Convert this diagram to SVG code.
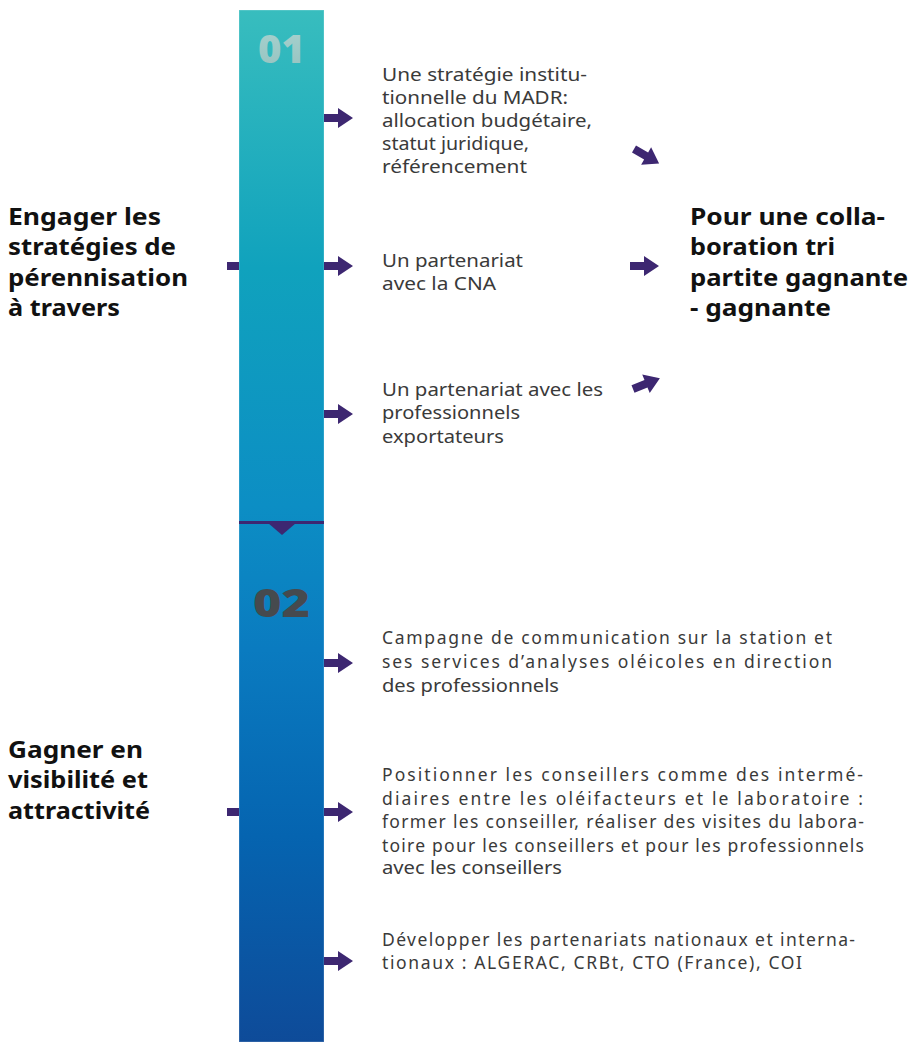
<svg xmlns="http://www.w3.org/2000/svg" width="912" height="1042" viewBox="0 0 912 1042">
<style>
.b{font-family:"Noto Sans","Liberation Sans",sans-serif;font-size:17.5px;fill:#3a3a3a}
.h{font-family:"Noto Sans","Liberation Sans",sans-serif;font-size:22.5px;font-weight:700;fill:#111111}
.n{font-family:"Noto Sans","Liberation Sans",sans-serif;font-size:38px;font-weight:900}
.ar{fill:#3D2771}
</style>
<defs>
<linearGradient id="bar" x1="0" y1="0" x2="0" y2="1">
<stop offset="0" stop-color="#38BDBE"/>
<stop offset="0.25" stop-color="#10A2BD"/>
<stop offset="0.48" stop-color="#0C8EC4"/>
<stop offset="0.62" stop-color="#0A7BC0"/>
<stop offset="0.8" stop-color="#0564B0"/>
<stop offset="1" stop-color="#0E4B99"/>
</linearGradient>
<linearGradient id="n1" x1="0" y1="0" x2="0" y2="1">
<stop offset="0" stop-color="#A8D3D0"/>
<stop offset="1" stop-color="#96C2BF"/>
</linearGradient>
<path id="arrow" d="M0,-4 H14 V-10 L29,0 L14,10 V4 H0 Z"/>
</defs>
<g id="bar-timeline">
<rect x="239" y="10" width="85" height="1032" fill="url(#bar)" stroke="#ffffff" stroke-opacity="0.25" stroke-width="1"/>
<rect x="239" y="521" width="85" height="3" fill="#3D2771"/>
<polygon points="268,523 296,523 282,535" fill="#3D2771"/>
<text class="n" x="258" y="63" fill="url(#n1)" textLength="47" lengthAdjust="spacingAndGlyphs">01</text>
<text class="n" x="253" y="617" fill="#464A4E" textLength="57" lengthAdjust="spacingAndGlyphs">02</text>
</g>
<g id="connectors">
<rect class="ar" x="227" y="262" width="12" height="8"/>
<rect class="ar" x="227" y="808" width="12" height="8"/>
<use href="#arrow" class="ar" x="324" y="118"/>
<use href="#arrow" class="ar" x="324" y="266"/>
<use href="#arrow" class="ar" x="324" y="414"/>
<use href="#arrow" class="ar" x="324" y="663"/>
<use href="#arrow" class="ar" x="324" y="812"/>
<use href="#arrow" class="ar" x="324" y="961"/>
<use href="#arrow" class="ar" transform="translate(634,149) rotate(30)"/>
<use href="#arrow" class="ar" transform="translate(630,266)"/>
<use href="#arrow" class="ar" transform="translate(633,389) rotate(-22)"/>
</g>
<g id="heading-1">
<text class="h" x="8" y="225" textLength="153" lengthAdjust="spacingAndGlyphs">Engager les</text>
<text class="h" x="8" y="255" textLength="168" lengthAdjust="spacingAndGlyphs">stratégies de</text>
<text class="h" x="8" y="286" textLength="180" lengthAdjust="spacingAndGlyphs">pérennisation</text>
<text class="h" x="8" y="316" textLength="112" lengthAdjust="spacingAndGlyphs">à travers</text>
</g>
<g id="heading-2">
<text class="h" x="8" y="758" textLength="135" lengthAdjust="spacingAndGlyphs">Gagner en</text>
<text class="h" x="8" y="788" textLength="140" lengthAdjust="spacingAndGlyphs">visibilité et</text>
<text class="h" x="8" y="819" textLength="142" lengthAdjust="spacingAndGlyphs">attractivité</text>
</g>
<g id="result">
<text class="h" x="690" y="225" textLength="195" lengthAdjust="spacingAndGlyphs">Pour une colla-</text>
<text class="h" x="690" y="255" textLength="145" lengthAdjust="spacingAndGlyphs">boration tri</text>
<text class="h" x="690" y="286" textLength="218" lengthAdjust="spacingAndGlyphs">partite gagnante</text>
<text class="h" x="690" y="316" textLength="141" lengthAdjust="spacingAndGlyphs">- gagnante</text>
</g>
<g id="item-1">
<text class="b" x="382" y="81" textLength="205" lengthAdjust="spacingAndGlyphs">Une stratégie institu-</text>
<text class="b" x="382" y="104" textLength="186" lengthAdjust="spacingAndGlyphs">tionnelle du MADR:</text>
<text class="b" x="382" y="127" textLength="210" lengthAdjust="spacingAndGlyphs">allocation budgétaire,</text>
<text class="b" x="382" y="150" textLength="147" lengthAdjust="spacingAndGlyphs">statut juridique,</text>
<text class="b" x="382" y="173" textLength="145" lengthAdjust="spacingAndGlyphs">référencement</text>
</g>
<g id="item-2">
<text class="b" x="382" y="267" textLength="141" lengthAdjust="spacingAndGlyphs">Un partenariat</text>
<text class="b" x="382" y="290" textLength="114" lengthAdjust="spacingAndGlyphs">avec la CNA</text>
</g>
<g id="item-3">
<text class="b" x="382" y="396" textLength="221" lengthAdjust="spacingAndGlyphs">Un partenariat avec les</text>
<text class="b" x="382" y="419" textLength="138" lengthAdjust="spacingAndGlyphs">professionnels</text>
<text class="b" x="382" y="443" textLength="122" lengthAdjust="spacingAndGlyphs">exportateurs</text>
</g>
<g id="item-4">
<text class="b" x="382" y="644" textLength="450" lengthAdjust="spacing">Campagne de communication sur la station et</text>
<text class="b" x="382" y="668" textLength="450" lengthAdjust="spacing">ses services d’analyses oléicoles en direction</text>
<text class="b" x="382" y="692" textLength="177" lengthAdjust="spacingAndGlyphs">des professionnels</text>
</g>
<g id="item-5">
<text class="b" x="382" y="781" textLength="481" lengthAdjust="spacing">Positionner les conseillers comme des intermé-</text>
<text class="b" x="382" y="805" textLength="481" lengthAdjust="spacing">diaires entre les oléifacteurs et le laboratoire :</text>
<text class="b" x="382" y="828" textLength="482" lengthAdjust="spacing">former les conseiller, réaliser des visites du labora-</text>
<text class="b" x="382" y="852" textLength="482" lengthAdjust="spacing">toire pour les conseillers et pour les professionnels</text>
<text class="b" x="382" y="874" textLength="180" lengthAdjust="spacingAndGlyphs">avec les conseillers</text>
</g>
<g id="item-6">
<text class="b" x="382" y="946" textLength="473" lengthAdjust="spacing">Développer les partenariats nationaux et interna-</text>
<text class="b" x="382" y="969" textLength="420" lengthAdjust="spacing">tionaux : ALGERAC, CRBt, CTO (France), COI</text>
</g>
</svg>
